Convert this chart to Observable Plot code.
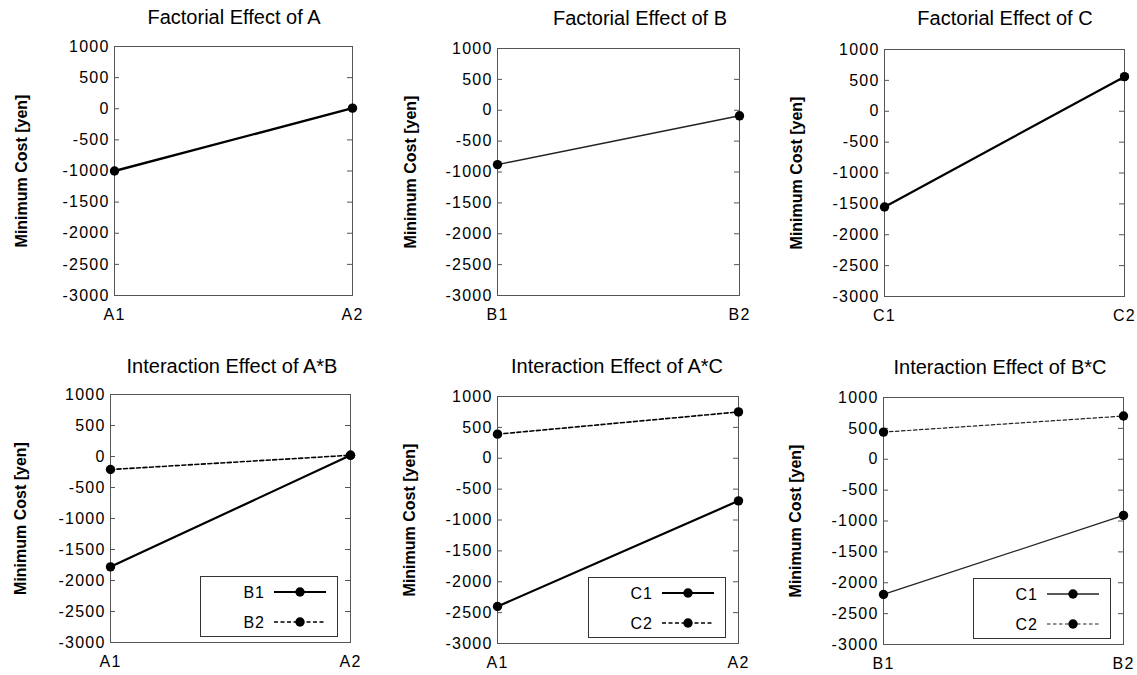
<!DOCTYPE html>
<html><head><meta charset="utf-8">
<script src="https://cdn.jsdelivr.net/npm/d3@7"></script>
<script src="https://cdn.jsdelivr.net/npm/@observablehq/plot@0.6"></script>
<style>
body{margin:0;background:#fff;}
#chart{position:relative;width:1137px;height:675px;font-family:"Liberation Sans",Arial,sans-serif;color:#000;overflow:hidden;background:#fff;}
.title{position:absolute;font-size:20px;white-space:nowrap;transform:translate(-50%,-50%);}
.panel{position:absolute;}
.legend{position:absolute;width:138px;height:61px;border:1px solid #333;background:#fff;box-sizing:border-box;}
.legend svg{position:absolute;left:0;top:0;}
</style></head><body><div id="chart"></div>
<script>
// ---- data ----
const levelsA = ["A1", "A2"];
const levelsB = ["B1", "B2"];
const levelsC = ["C1", "C2"];
const yTicks = [1000, 500, 0, -500, -1000, -1500, -2000, -2500, -3000];
const yLabel = "Minimum Cost [yen]";

const effectA = [-1000, 10];
const effectB = [-880, -90];
const effectC = [-1550, 560];

const abB1 = [-1780, 20];
const abB2 = [-210, 20];
const acC1 = [-2400, -690];
const acC2 = [390, 750];
const bcC1 = [-2190, -910];
const bcC2 = [440, 700];

const titles = ["Factorial Effect of A", "Factorial Effect of B", "Factorial Effect of C",
  "Interaction Effect of A*B", "Interaction Effect of A*C", "Interaction Effect of B*C"];

// ---- layout ----
const panels = [
  {title: titles[0], levels: levelsA, series: [{name: "A", values: effectA}], L: 114, R: 352, T: 46, B: 295, tx: 234, ty: 17, sw: 2.4, col: "#000", ld: 93},
  {title: titles[1], levels: levelsB, series: [{name: "B", values: effectB}], L: 497, R: 739, T: 48, B: 295, tx: 640, ty: 18, sw: 1.4, col: "#222", ld: 87},
  {title: titles[2], levels: levelsC, series: [{name: "C", values: effectC}], L: 884, R: 1124, T: 49, B: 296, tx: 1005, ty: 18, sw: 2.2, col: "#000", ld: 88},
  {title: titles[3], levels: levelsA, series: [{name: levelsB[0], values: abB1}, {name: levelsB[1], values: abB2, dash: "4,2.5"}], L: 110, R: 350, T: 394, B: 642, tx: 232, ty: 366, sw: 2.2, dsw: 1.6, col: "#000", legend: true, ld: 90},
  {title: titles[4], levels: levelsA, series: [{name: levelsC[0], values: acC1}, {name: levelsC[1], values: acC2, dash: "4,2.5"}], L: 497, R: 738, T: 396, B: 643, tx: 617, ty: 366, sw: 2.2, dsw: 1.6, col: "#000", legend: true, ld: 88},
  {title: titles[5], levels: levelsB, series: [{name: levelsC[0], values: bcC1}, {name: levelsC[1], values: bcC2, dash: "3.5,2.5"}], L: 883, R: 1123, T: 397, B: 644, tx: 1000, ty: 367, sw: 1.3, dsw: 1.2, col: "#222", legend: true, ld: 88}
];

const chart = document.getElementById("chart");
const ML = 100, MR = 12, MT = 8, MB = 36;

for (const p of panels) {
  const W = p.R - p.L, H = p.B - p.T;
  const marks = [
    Plot.frame({stroke: "#555", strokeWidth: 1}),
    Plot.tickY(yTicks, {y: d => d, insetLeft: W - 5, stroke: "#555"}),
    Plot.tickY(yTicks, {y: d => d, insetRight: W - 5, stroke: "#555"}),
    Plot.axisY({ticks: yTicks, tickSize: 0, tickPadding: 5, tickFormat: d => String(d), label: null, fontSize: 16}),
    Plot.axisX({tickSize: 0, tickPadding: 13, label: null, fontSize: 16}),
    Plot.text([yLabel], {frameAnchor: "left", text: d => d, rotate: -90, dx: -p.ld, fontWeight: "bold", fontSize: 16, textAnchor: "middle", lineAnchor: "middle"})
  ];
  for (const s of p.series) {
    const rows = p.levels.map((l, i) => ({x: l, y: s.values[i]}));
    marks.push(Plot.line(rows, {x: "x", y: "y", stroke: p.col, strokeWidth: s.dash ? p.dsw : p.sw, strokeDasharray: s.dash || null}));
    marks.push(Plot.dot(rows, {x: "x", y: "y", r: 4.7, fill: "#000", stroke: "none"}));
  }
  const svg = Plot.plot({
    width: W + ML + MR, height: H + MT + MB,
    marginLeft: ML, marginRight: MR, marginTop: MT, marginBottom: MB,
    style: {fontFamily: '"Liberation Sans", Arial, sans-serif', fontSize: "16px", background: "transparent", color: "#000", overflow: "visible"},
    x: {type: "point", domain: p.levels, padding: 0},
    y: {domain: [-3000, 1000]},
    marks
  });
  // the reference's tick digits are slightly wider-set
  svg.querySelectorAll('g[aria-label="y-axis tick label"] text, g[aria-label="x-axis tick label"] text')
    .forEach(t => t.setAttribute("letter-spacing", "1.2"));
  const div = document.createElement("div");
  div.className = "panel";
  div.style.left = (p.L - ML) + "px";
  div.style.top = (p.T - MT) + "px";
  div.appendChild(svg);
  chart.appendChild(div);

  const t = document.createElement("div");
  t.className = "title";
  t.textContent = p.title;
  t.style.left = p.tx + "px";
  t.style.top = p.ty + "px";
  chart.appendChild(t);

  if (p.legend) {
    const lg = document.createElement("div");
    lg.className = "legend";
    lg.style.left = (p.R - 12 - 138) + "px";
    lg.style.top = (p.B - 5 - 61) + "px";
    const ns = "http://www.w3.org/2000/svg";
    const s = document.createElementNS(ns, "svg");
    s.setAttribute("width", 138); s.setAttribute("height", 61);
    p.series.forEach((ser, i) => {
      const yy = 15 + i * 30;
      const tx = document.createElementNS(ns, "text");
      tx.setAttribute("x", 64); tx.setAttribute("y", yy);
      tx.setAttribute("text-anchor", "end"); tx.setAttribute("dominant-baseline", "central");
      tx.setAttribute("font-size", 16); tx.setAttribute("letter-spacing", "1");
      tx.setAttribute("font-family", '"Liberation Sans", Arial, sans-serif');
      tx.textContent = ser.name;
      s.appendChild(tx);
      const ln = document.createElementNS(ns, "line");
      ln.setAttribute("x1", 73); ln.setAttribute("x2", 125); ln.setAttribute("y1", yy); ln.setAttribute("y2", yy);
      ln.setAttribute("stroke", p.col); ln.setAttribute("stroke-width", ser.dash ? p.dsw : p.sw);
      if (ser.dash) ln.setAttribute("stroke-dasharray", ser.dash);
      s.appendChild(ln);
      const c = document.createElementNS(ns, "circle");
      c.setAttribute("cx", 99); c.setAttribute("cy", yy); c.setAttribute("r", 4.7); c.setAttribute("fill", "#000");
      s.appendChild(c);
    });
    lg.appendChild(s);
    chart.appendChild(lg);
  }
}
</script></body></html>
